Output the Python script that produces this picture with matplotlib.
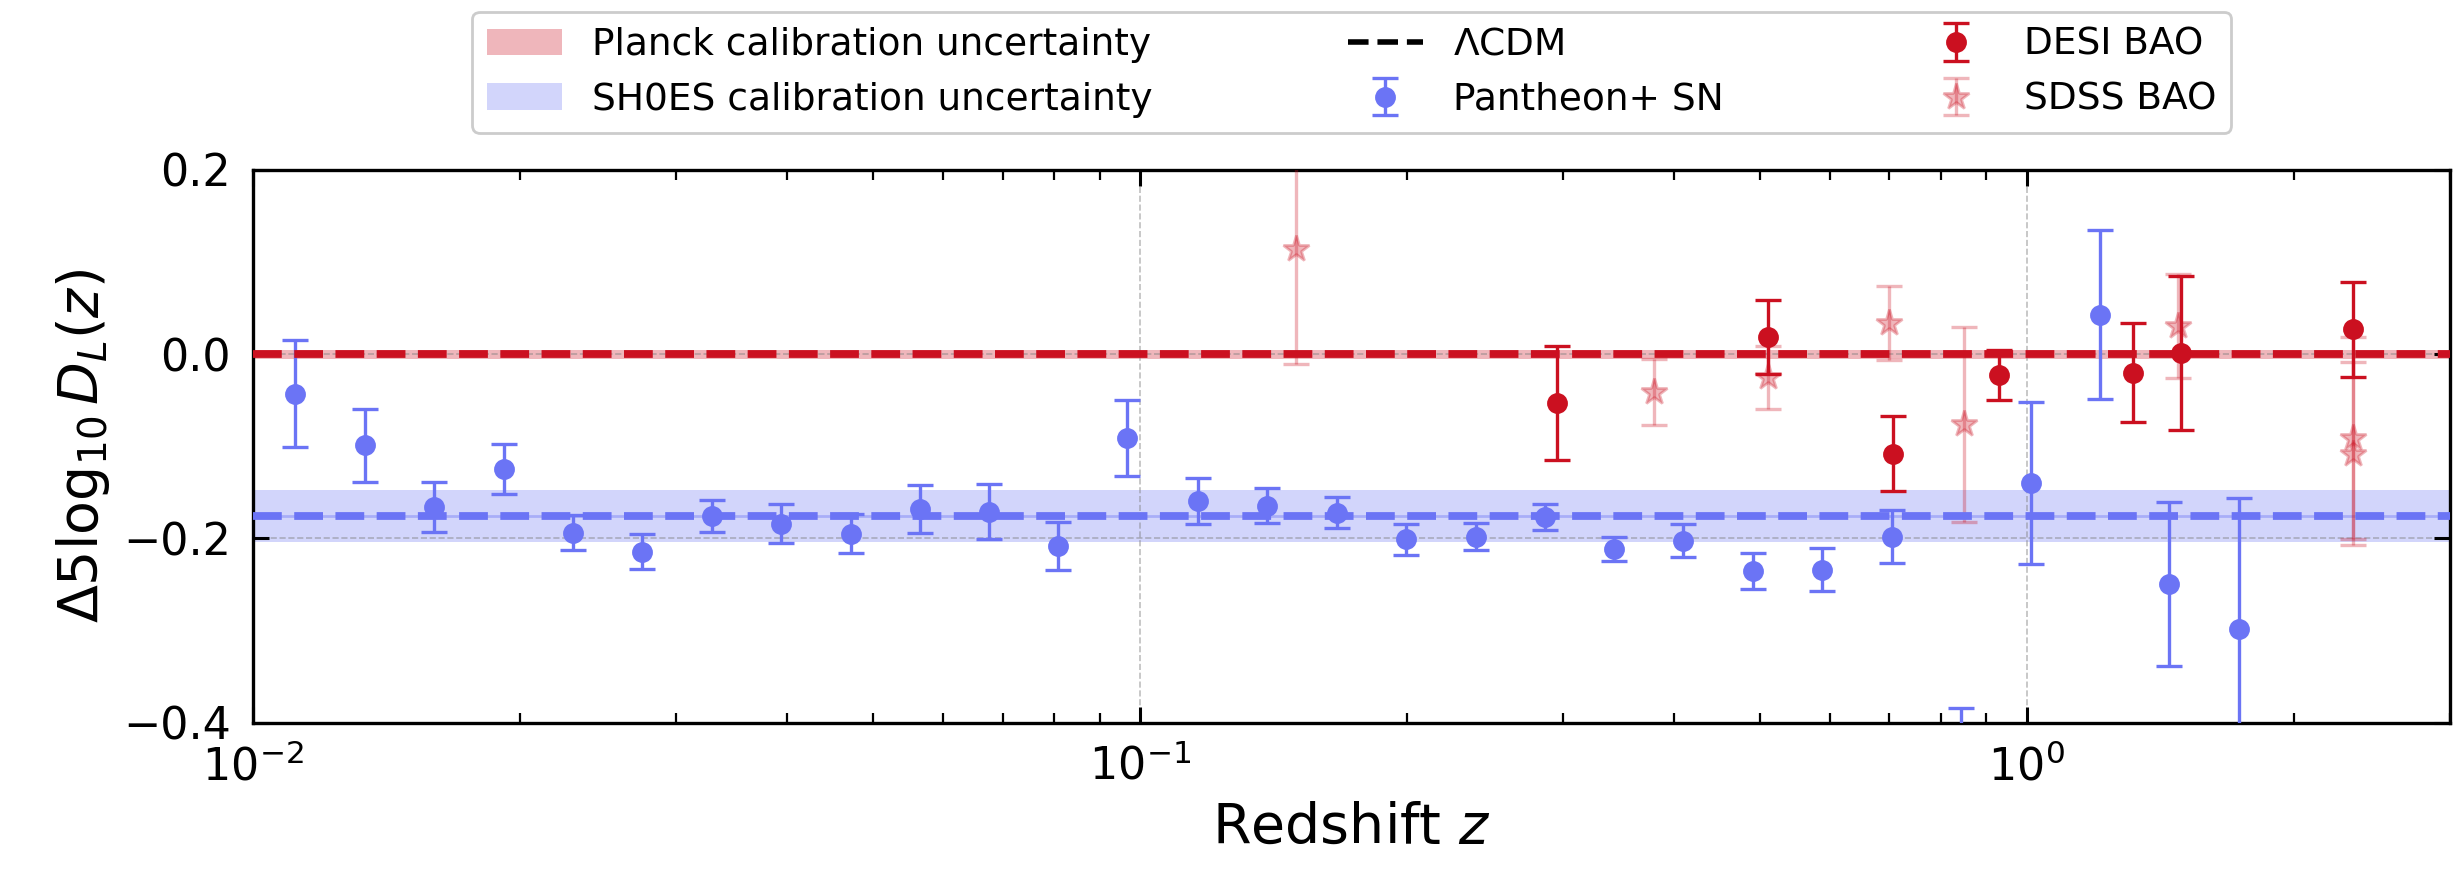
import matplotlib
matplotlib.use("Agg")
import matplotlib.pyplot as plt
from matplotlib.patches import Patch
from matplotlib.lines import Line2D

# Pantheon+ SN binned residuals
sn_z = [0.01115, 0.01335, 0.0160, 0.01916, 0.02294, 0.02746, 0.0329, 0.0394,
        0.0472, 0.0565, 0.0676, 0.0809, 0.0966, 0.1161, 0.1391, 0.1667,
        0.1995, 0.239, 0.286, 0.3425, 0.410, 0.491, 0.588, 0.704, 0.843,
        1.010, 1.21, 1.448, 1.734]
sn_dmu = [-0.043, -0.099, -0.166, -0.125, -0.194, -0.2145, -0.176, -0.184,
          -0.195, -0.168, -0.171, -0.208, -0.091, -0.159, -0.1645, -0.172,
          -0.201, -0.198, -0.177, -0.2115, -0.2025, -0.235, -0.234, -0.198,
          -0.465, -0.140, 0.043, -0.2495, -0.2985]
sn_err = [0.058, 0.040, 0.0275, 0.0273, 0.019, 0.019, 0.0172, 0.021,
          0.021, 0.0257, 0.030, 0.026, 0.041, 0.025, 0.019, 0.017,
          0.017, 0.015, 0.0143, 0.013, 0.018, 0.0195, 0.0234, 0.029,
          0.081, 0.0877, 0.092, 0.0886, 0.142]

# DESI BAO
desi_z = [0.295, 0.510, 0.706, 0.930, 1.317, 1.491, 2.330]
desi_dmu = [-0.053, 0.0185, -0.108, -0.0225, -0.020, 0.001, 0.027]
desi_err = [0.0616, 0.040, 0.041, 0.0275, 0.054, 0.0837, 0.0515]

# SDSS BAO
sdss_z = [0.15, 0.38, 0.51, 0.70, 0.85, 1.48, 2.33, 2.33]
sdss_dmu = [0.114, -0.041, -0.025, 0.034, -0.076, 0.031, -0.091, -0.108]
sdss_err = [0.125, 0.036, 0.034, 0.040, 0.106, 0.0565, 0.110, 0.0995]

# Calibration offsets and their uncertainties
planck_offset, planck_sigma = 0.0, 0.005
shoes_offset, shoes_sigma = -0.1755, 0.028

RED = "#cb1020"
BLUE = "#6b74f5"

fig = plt.figure(figsize=(12.32, 4.345), dpi=200)
ax = fig.add_axes([0.1028, 0.1684, 0.8915, 0.6360])

ax.set_xscale("log")
ax.set_xlim(0.01, 3.0)
ax.set_ylim(-0.4, 0.2)
ax.set_yticks([-0.4, -0.2, 0.0, 0.2])

ax.grid(True, which="major", linestyle="--", linewidth=0.6, color="gray", alpha=0.5, zorder=0)

# calibration bands
ax.axhspan(planck_offset - planck_sigma, planck_offset + planck_sigma,
           color=RED, alpha=0.3, lw=0, zorder=1)
ax.axhspan(shoes_offset - shoes_sigma, shoes_offset + shoes_sigma,
           color=BLUE, alpha=0.3, lw=0, zorder=1)
ax.axhline(shoes_offset, color=BLUE, alpha=0.4, lw=1.0, zorder=1.5)

ebkw = dict(capsize=4.8, elinewidth=1.2, capthick=1.2, zorder=3)
sn = ax.errorbar(sn_z, sn_dmu, yerr=sn_err, fmt="o", color=BLUE, ms=6.5, **ebkw)
desi = ax.errorbar(desi_z, desi_dmu, yerr=desi_err, fmt="o", color=RED, ms=6.5, **ebkw)
sdss = ax.errorbar(sdss_z, sdss_dmu, yerr=sdss_err, fmt="*", color=RED, ms=10,
                   alpha=0.3, **ebkw)

# LCDM predictions for both calibrations
ax.axhline(planck_offset, color=RED, ls="--", lw=2.8, zorder=4)
ax.axhline(shoes_offset, color=BLUE, ls="--", lw=2.8, zorder=4)

ax.set_xlabel(r"Redshift $z$", fontsize=20)
ax.set_ylabel(r"$\Delta5\log_{10}D_L(z)$", fontsize=20)

ax.tick_params(which="both", direction="in", top=True, right=True, labelsize=16, pad=8)
ax.tick_params(which="major", length=5.8, width=1.1)
ax.tick_params(which="minor", length=3.6, width=0.8)
for sp in ax.spines.values():
    sp.set_linewidth(1.2)

handles = [
    Patch(facecolor=RED, alpha=0.3, lw=0),
    Patch(facecolor=BLUE, alpha=0.3, lw=0),
    Line2D([], [], color="black", ls="--", lw=2.0),
    sn,
    desi,
    sdss,
]
labels = [
    "Planck calibration uncertainty",
    "SH0ES calibration uncertainty",
    r"$\Lambda$CDM",
    "Pantheon+ SN",
    "DESI BAO",
    "SDSS BAO",
]
leg = ax.legend(handles, labels, loc="lower center", bbox_to_anchor=(0.5, 1.0675),
                borderaxespad=0.0, ncol=3, columnspacing=5.2, fontsize=13.5,
                frameon=True, fancybox=True, edgecolor="0.8", framealpha=1.0)

fig.savefig("out.png", dpi=200)
